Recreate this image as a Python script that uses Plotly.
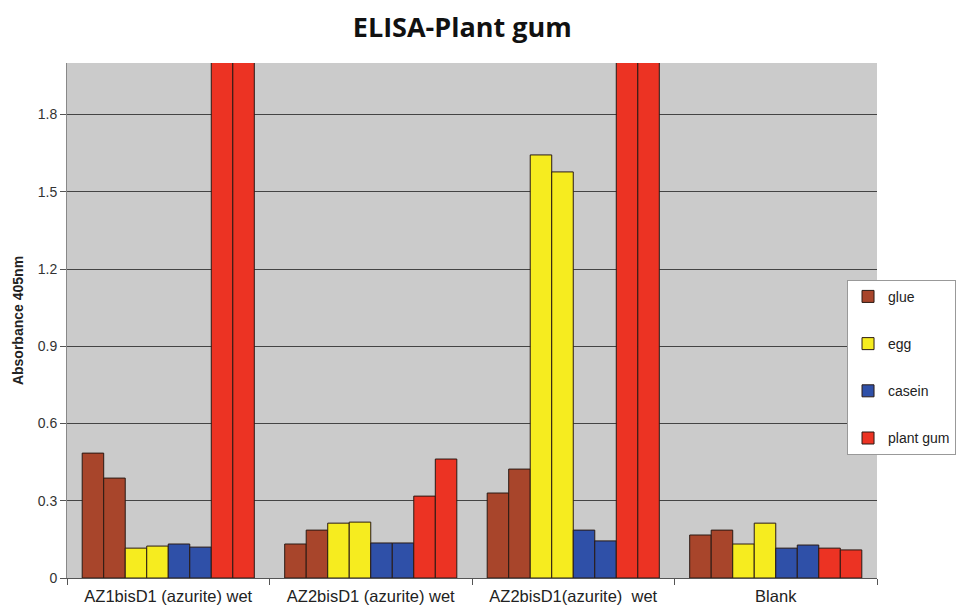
import plotly.graph_objects as go

categories = ["AZ1bisD1 (azurite) wet", "AZ2bisD1 (azurite) wet", "AZ2bisD1(azurite)\u00a0 wet", "Blank"]
series_names = ["glue", "egg", "casein", "plant gum"]
series_colors = ["#A8452B", "#F6EC1F", "#2F50A8", "#EC3323"]

# two replicate wells per antibody, per sample (plant gum saturated beyond axis for samples 1 and 3)
glue_rep1 = [0.485, 0.132, 0.330, 0.167]
glue_rep2 = [0.388, 0.186, 0.423, 0.186]
egg_rep1 = [0.116, 0.213, 1.643, 0.132]
egg_rep2 = [0.124, 0.217, 1.577, 0.213]
casein_rep1 = [0.132, 0.136, 0.186, 0.116]
casein_rep2 = [0.120, 0.136, 0.144, 0.128]
plantgum_rep1 = [2.5, 0.318, 2.5, 0.116]
plantgum_rep2 = [2.5, 0.462, 2.5, 0.109]

y_ticks = [0, 0.3, 0.6, 0.9, 1.2, 1.5, 1.8]
y_ticktext = ["0", "0.3", "0.6", "0.9", "1.2", "1.5", "1.8"]

reps = [(glue_rep1, glue_rep2), (egg_rep1, egg_rep2),
        (casein_rep1, casein_rep2), (plantgum_rep1, plantgum_rep2)]

fig = go.Figure()
for name, color, (r1, r2) in zip(series_names, series_colors, reps):
    for i, vals in enumerate((r1, r2)):
        fig.add_trace(go.Bar(
            x=categories, y=vals, name=name, legendgroup=name,
            showlegend=(i == 0),
            marker=dict(color=color, line=dict(color="#2a1a14", width=1)),
        ))

fig.update_layout(
    width=959, height=601,
    barmode="group", bargap=0.15, bargroupgap=0,
    paper_bgcolor="white", plot_bgcolor="#CBCBCB",
    margin=dict(l=59, r=90, t=55, b=31, autoexpand=False),
    title=dict(text="<b>ELISA-Plant gum</b>", x=0.488, xref="paper", xanchor="center",
               y=0.968, yanchor="middle",
               font=dict(family="Open Sans", size=27, color="#111")),
    font=dict(family="Liberation Sans, Arial", color="#222"),
    legend=dict(x=0.963, y=0.579, xanchor="left", yanchor="top",
                bgcolor="white", bordercolor="#999", borderwidth=1,
                tracegroupgap=26, font=dict(size=14, color="#222"),
                itemwidth=30),
    showlegend=True,
)
fig.update_xaxes(
    automargin=False,
    showgrid=False, showline=True, linecolor="#555", linewidth=1,
    ticks="outside", tickson="boundaries", ticklen=6, tickcolor="#555",
    tickfont=dict(size=16.5, color="#222"), ticklabelstandoff=3,
)
fig.update_yaxes(
    automargin=False,
    range=[0, 2.0], tickvals=y_ticks, ticktext=y_ticktext,
    showgrid=True, gridcolor="#444", gridwidth=1,
    showline=True, linecolor="#888", linewidth=1,
    ticks="outside", ticklen=6, tickcolor="#555",
    zeroline=False,
    tickfont=dict(size=14, color="#333"),
    title=dict(text="<b>Absorbance 405nm</b>", font=dict(size=14, color="#222"), standoff=10),
)
fig.write_html("out.html")
